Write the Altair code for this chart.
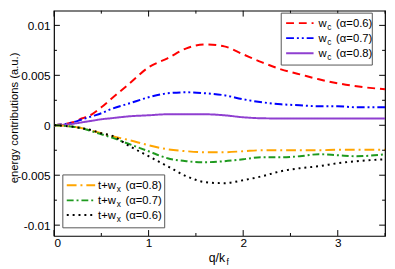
import altair as alt
import pandas as pd

# ---------------- data ----------------
q = [0, 0.1, 0.2, 0.3, 0.4, 0.5, 0.6, 0.8, 1.0, 1.2, 1.4, 1.6, 1.8, 2.0, 2.2, 2.4, 2.6, 2.8, 3.0, 3.2, 3.5]

wc_06 = [0, 0.0001, 0.0003, 0.0007, 0.0011, 0.0018, 0.0026, 0.0042, 0.0058, 0.0067, 0.0077, 0.0081,
         0.0079, 0.0071, 0.0063, 0.0056, 0.0051, 0.0046, 0.0042, 0.0039, 0.0036]
wc_07 = [0, 0.0001, 0.0003, 0.0006, 0.0009, 0.0012, 0.0016, 0.0022, 0.0028, 0.0032, 0.0033, 0.0032,
         0.0030, 0.0026, 0.0023, 0.0021, 0.0020, 0.0019, 0.0019, 0.0018, 0.0018]
wc_08 = [0, 0.00005, 0.00015, 0.0003, 0.00045, 0.0006, 0.0007, 0.0009, 0.0010, 0.0011, 0.0011, 0.0011,
         0.0010, 0.0008, 0.0007, 0.00068, 0.00068, 0.00068, 0.00068, 0.00068, 0.00068]
twx_08 = [0, -0.00005, -0.00015, -0.0003, -0.00055, -0.0008, -0.00105, -0.0015, -0.0020, -0.0024, -0.0026,
          -0.0027, -0.0027, -0.0026, -0.0025, -0.0025, -0.0025, -0.0025, -0.00245, -0.00245, -0.00245]
twx_07 = [0, -0.00005, -0.00015, -0.0003, -0.0006, -0.0009, -0.0012, -0.0019, -0.0026, -0.0033, -0.0036,
          -0.0037, -0.0036, -0.0034, -0.0032, -0.0032, -0.0031, -0.0029, -0.0030, -0.0031, -0.0029]
twx_06 = [0, -0.00005, -0.00015, -0.0003, -0.0005, -0.0008, -0.0010, -0.0021, -0.0031, -0.0041, -0.0051,
          -0.0057, -0.0058, -0.0055, -0.0051, -0.0046, -0.0043, -0.0041, -0.0038, -0.0036, -0.0034]

series_names = ["wc06", "wc07", "wc08", "twx08", "twx07", "twx06"]
series_values = [wc_06, wc_07, wc_08, twx_08, twx_07, twx_06]
series_colors = ["#ff0000", "#0000ff", "#8f3fd0", "#ffa500", "#1f9a1f", "#000000"]
series_dashes = [[8, 5], [8, 3, 2, 3, 2, 3], [1, 0], [10, 4, 2, 4], [7, 3, 2, 3], [2, 4]]

legend_top = [("w", "c", "(α=0.6)", 0), ("w", "c", "(α=0.7)", 1), ("w", "c", "(α=0.8)", 2)]
legend_bottom = [("t+w", "x", "(α=0.8)", 3), ("t+w", "x", "(α=0.7)", 4), ("t+w", "x", "(α=0.6)", 5)]

x_major = [0, 1, 2, 3]
x_minor = [0.5, 1.5, 2.5, 3.5]
y_major = [-0.01, -0.005, 0, 0.005, 0.01]
y_minor = [-0.0075, -0.0025, 0.0025, 0.0075]

# ---------------- chart ----------------
W, H = 338, 230
FONT = "Liberation Sans"

rows = []
for name, vals in zip(series_names, series_values):
    for qq, v in zip(q, vals):
        rows.append({"series": name, "q": qq, "val": v})
df = pd.DataFrame(rows)

xs = alt.Scale(domain=[0, 3.5], nice=False, zero=False)
ys = alt.Scale(domain=[-0.01108, 0.01147], nice=False, zero=False)

xaxis = alt.Axis(values=x_major, format="d", title=None, ticks=False, tickSize=0, domain=False,
                 grid=False, labelFont=FONT, labelFontSize=12, labelColor="black", labelPadding=2)
yaxis = alt.Axis(values=y_major, labelExpr="toString(datum.value)", title="energy contributions (a.u.)",
                 ticks=False, tickSize=0, domain=False, grid=False, labelFont=FONT, labelFontSize=12,
                 labelColor="black", labelPadding=4, titleFont=FONT, titleFontSize=11.5,
                 titleFontWeight="normal", titleColor="black", titleAngle=270, titleX=-46.5,
                 titleY=109, titleAlign="center", titleBaseline="top")

X = alt.X("q:Q", scale=xs, axis=xaxis)
Y = alt.Y("val:Q", scale=ys, axis=yaxis)

lines = alt.Chart(df).mark_line(strokeWidth=2, interpolate="monotone").encode(
    x=X, y=Y,
    color=alt.Color("series:N", scale=alt.Scale(domain=series_names, range=series_colors), legend=None),
    strokeDash=alt.StrokeDash("series:N", scale=alt.Scale(domain=series_names, range=series_dashes), legend=None),
    detail="series:N",
)

layers = [lines]

def yticks(vals, length):
    d = pd.DataFrame({"val": vals})
    left = alt.Chart(d).mark_rule(color="black", strokeWidth=1).encode(
        y=Y, x=alt.value(0), x2=alt.value(length))
    right = alt.Chart(d).mark_rule(color="black", strokeWidth=1).encode(
        y=Y, x=alt.value(W - length), x2=alt.value(W))
    return [left, right]

def xticks(vals, length):
    d = pd.DataFrame({"q": vals})
    bottom = alt.Chart(d).mark_rule(color="black", strokeWidth=1).encode(
        x=X, y=alt.value(H - length), y2=alt.value(H))
    top = alt.Chart(d).mark_rule(color="black", strokeWidth=1).encode(
        x=X, y=alt.value(0), y2=alt.value(length))
    return [bottom, top]

layers += yticks(y_major, 6) + yticks(y_minor, 3) + xticks(x_major, 6) + xticks(x_minor, 3)

one = pd.DataFrame({"a": [0]})

def legend(entries, box, line_x, text_x, sub_dx, suffix_x, ys_pos):
    out = [alt.Chart(one).mark_rect(fill="white", stroke="#555555", strokeWidth=1).encode(
        x=alt.value(box[0]), x2=alt.value(box[1]), y=alt.value(box[2]), y2=alt.value(box[3]))]
    for (main, sub, suffix, idx), yc in zip(entries, ys_pos):
        out.append(alt.Chart(one).mark_rule(color=series_colors[idx], strokeWidth=2,
                                            strokeDash=series_dashes[idx]).encode(
            x=alt.value(line_x[0]), x2=alt.value(line_x[1]), y=alt.value(yc)))
        out.append(alt.Chart(one).mark_text(align="left", baseline="alphabetic", font=FONT,
                                            fontSize=11.5, color="black").encode(
            x=alt.value(text_x), y=alt.value(yc + 4), text=alt.value(main)))
        out.append(alt.Chart(one).mark_text(align="left", baseline="alphabetic", font=FONT,
                                            fontSize=8.5, color="black").encode(
            x=alt.value(text_x + sub_dx), y=alt.value(yc + 7), text=alt.value(sub)))
        out.append(alt.Chart(one).mark_text(align="left", baseline="alphabetic", font=FONT,
                                            fontSize=11.5, color="black").encode(
            x=alt.value(suffix_x), y=alt.value(yc + 4), text=alt.value(suffix)))
    return out

layers += legend(legend_top, (232, 325, 2.5, 55.5), (237, 265), 270, 9, 288, [12.7, 28.0, 43.5])
layers += legend(legend_bottom, (9, 113, 167.7, 221.7), (13, 42), 45, 19, 73, [178.3, 193.7, 208.7])

# x-axis title with subscript
layers.append(alt.Chart(one).mark_text(align="left", baseline="alphabetic", font=FONT, fontSize=12.5,
                                       color="black").encode(
    x=alt.value(158), y=alt.value(257), text=alt.value("q/k")))
layers.append(alt.Chart(one).mark_text(align="left", baseline="alphabetic", font=FONT, fontSize=8.5,
                                       color="black").encode(
    x=alt.value(176), y=alt.value(260), text=alt.value("f")))

chart = alt.layer(*layers).properties(
    width=W, height=H,
    autosize=alt.AutoSizeParams(type="none"),
    padding={"left": 47, "top": 0, "right": 2, "bottom": 31},
    background="white",
).configure_view(stroke="black", strokeWidth=1.2)

chart.save("out.html", embed_options={"renderer": "svg", "actions": False})
